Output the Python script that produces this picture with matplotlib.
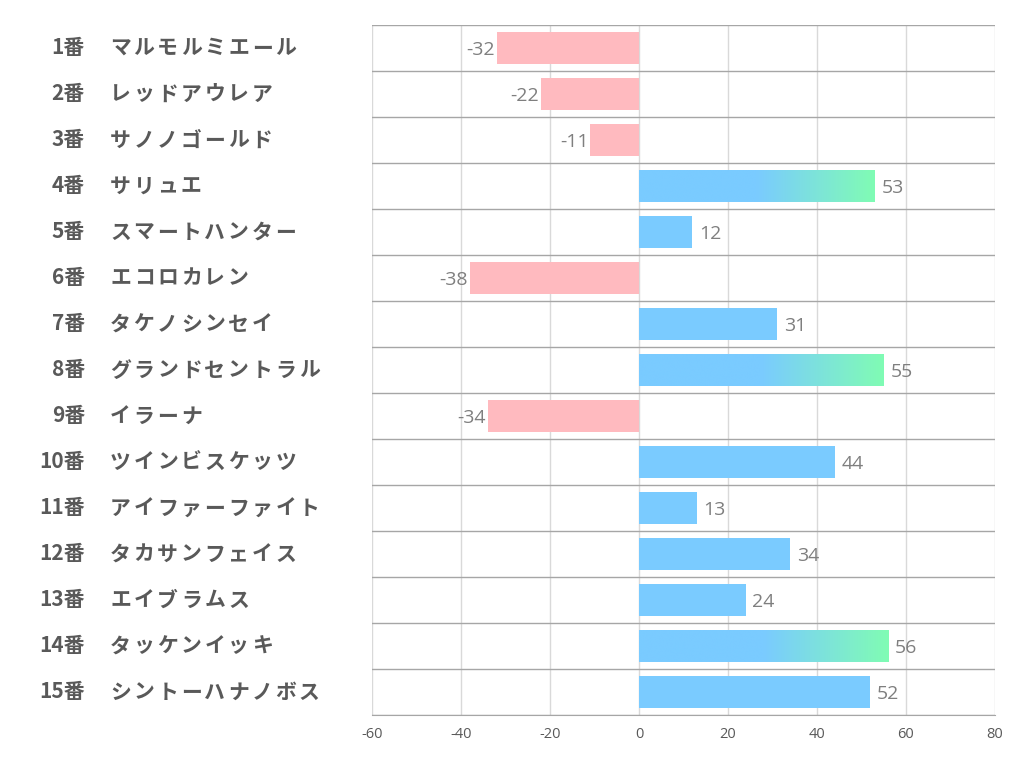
import numpy as np
import matplotlib
matplotlib.use("Agg")
import matplotlib.pyplot as plt
from matplotlib.colors import LinearSegmentedColormap
from matplotlib.ticker import FixedLocator
import matplotlib.transforms as mtransforms

numbers = ["1番", "2番", "3番", "4番", "5番", "6番", "7番", "8番", "9番", "10番",
           "11番", "12番", "13番", "14番", "15番"]
names = ["マルモルミエール", "レッドアウレア", "サノノゴールド", "サリュエ", "スマートハンター",
         "エコロカレン", "タケノシンセイ", "グランドセントラル", "イラーナ", "ツインビスケッツ",
         "アイファーファイト", "タカサンフェイス", "エイブラムス", "タッケンイッキ", "シントーハナノボス"]
values = [-32, -22, -11, 53, 12, -38, 31, 55, -34, 44, 13, 34, 24, 56, 52]
x_ticks = [-60, -40, -20, 0, 20, 40, 60, 80]
gradient_threshold = 53

pos_color = "#7ACBFF"
neg_color = "#FFBABF"
grad_end = "#80FCB4"

plt.rcParams['font.family'] = ['Noto Sans CJK JP', 'DejaVu Sans']

fig = plt.figure(figsize=(10.22, 7.82), dpi=100)
ax = fig.add_axes([372/1022, 1-715/782, (995-372)/1022, (715-25)/782])

y = np.arange(len(values))
h = 0.68
colors = [pos_color if v >= 0 else neg_color for v in values]
bars = ax.barh(y, values, height=h, color=colors, zorder=3)

cmap = LinearSegmentedColormap.from_list("g", [pos_color, pos_color, grad_end])
for b, v in zip(bars, values):
    if v >= gradient_threshold:
        x0, y0 = b.get_x(), b.get_y()
        w, hh = b.get_width(), b.get_height()
        grad = np.linspace(0, 1, 256).reshape(1, -1)
        im = ax.imshow(grad, extent=[x0, x0 + w, y0 + hh, y0], cmap=cmap,
                       aspect='auto', zorder=3.5, interpolation='bicubic')
        im.set_clip_path(b)

num_font = ['Open Sans', 'DejaVu Sans']
for yi, v in zip(y, values):
    if v >= 0:
        ax.text(v + 1.5, yi + 0.05, str(v), ha='left', va='center', fontsize=14,
                color='#7F7F7F', family=num_font, zorder=5)
    else:
        ax.text(v - 0.4, yi + 0.05, str(v), ha='right', va='center', fontsize=14,
                color='#7F7F7F', family=num_font, zorder=5)

ax.set_xlim(-60, 80)
ax.set_ylim(len(values) - 0.5, -0.5)
ax.xaxis.set_major_locator(FixedLocator(x_ticks))
ax.set_xticklabels([str(t) for t in x_ticks], fontsize=10.5, color='#595959',
                   family=num_font)
ax.tick_params(axis='x', length=0, pad=9)
ax.set_yticks([])
ax.yaxis.set_minor_locator(FixedLocator(np.arange(-0.5, len(values), 1.0)))
ax.tick_params(axis='y', which='both', length=0)
ax.grid(axis='x', which='major', color='#D9D9D9', linewidth=1, zorder=0)
ax.grid(axis='y', which='minor', color='#A6A6A6', linewidth=1, zorder=1)
ax.set_axisbelow(True)
for s in ['top', 'left', 'right']:
    ax.spines[s].set_visible(False)
ax.spines['bottom'].set_color('#A6A6A6')

trans = mtransforms.blended_transform_factory(ax.transAxes, ax.transData)
advance_pt = 17.0  # character pitch of the names, in points
for yi, n, nm in zip(y, numbers, names):
    ax.text((85 - 372) / 623, yi, n, transform=trans, ha='right', va='center',
            fontsize=15, fontweight='bold', color='#595959')
    for k, ch in enumerate(nm):
        ax.annotate(ch, xy=((110 - 372) / 623, yi), xycoords=trans,
                    xytext=(k * advance_pt, 0), textcoords='offset points',
                    ha='left', va='center', fontsize=15, fontweight='bold',
                    color='#595959', annotation_clip=False)

fig.savefig("out.png", dpi=100)
